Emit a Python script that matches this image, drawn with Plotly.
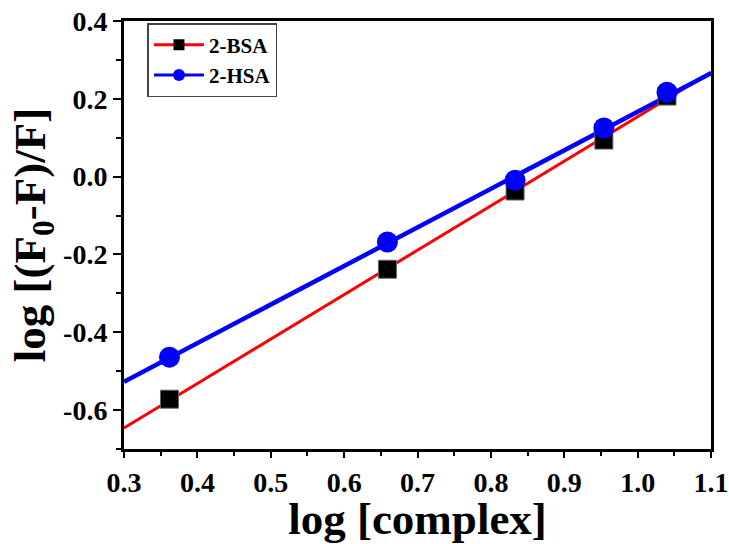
import plotly.graph_objects as go

# ---- data ----
log_complex = [0.362, 0.659, 0.833, 0.954, 1.040]
bsa_vals = [-0.572, -0.238, -0.037, 0.094, 0.207]
hsa_vals = [-0.464, -0.168, -0.009, 0.125, 0.217]

fit_x = [0.3, 1.1]
bsa_fit = [-0.646, 0.268]
hsa_fit = [-0.527, 0.266]

x_tickvals = [0.3, 0.4, 0.5, 0.6, 0.7, 0.8, 0.9, 1.0, 1.1]
x_ticktext = ["0.3", "0.4", "0.5", "0.6", "0.7", "0.8", "0.9", "1.0", "1.1"]
y_tickvals = [-0.6, -0.4, -0.2, 0.0, 0.2, 0.4]
y_ticktext = ["-0.6", "-0.4", "-0.2", "0.0", "0.2", "0.4"]

RED = "#FF0000"
BLUE = "#0000FF"
FONT = "Liberation Serif"

fig = go.Figure()

# fit lines
fig.add_trace(go.Scatter(x=fit_x, y=bsa_fit, mode="lines",
                         line=dict(color=RED, width=3), showlegend=False))
fig.add_trace(go.Scatter(x=fit_x, y=hsa_fit, mode="lines",
                         line=dict(color=BLUE, width=4.5), showlegend=False))
# data points
fig.add_trace(go.Scatter(x=log_complex, y=bsa_vals, mode="markers",
                         marker=dict(symbol="square", size=18, color="black",
                                     line=dict(color="#666666", width=1)),
                         showlegend=False))
fig.add_trace(go.Scatter(x=log_complex, y=hsa_vals, mode="markers",
                         marker=dict(symbol="circle", size=21, color=BLUE),
                         showlegend=False))
# legend entries
fig.add_trace(go.Scatter(x=[None], y=[None], mode="lines+markers", name="2-BSA",
                         line=dict(color=RED, width=3),
                         marker=dict(symbol="square", size=11, color="black")))
fig.add_trace(go.Scatter(x=[None], y=[None], mode="lines+markers", name="2-HSA",
                         line=dict(color=BLUE, width=3),
                         marker=dict(symbol="circle", size=12, color=BLUE)))

axis_common = dict(
    showline=True, linecolor="black", linewidth=3, mirror=True,
    ticks="outside", tickwidth=2, tickcolor="black",
    showgrid=False, zeroline=False, automargin=False,
    tickfont=dict(family=FONT, size=28, color="black", weight="bold"),
)

fig.update_xaxes(
    **axis_common,
    ticklen=6,
    range=[0.3, 1.1],
    tickvals=x_tickvals, ticktext=x_ticktext,
    minor=dict(ticks="outside", ticklen=4, tickwidth=2, tickcolor="black",
               dtick=0.05, tick0=0.3, showgrid=False),
    title=dict(text="log [complex]", standoff=0,
               font=dict(family=FONT, size=45, color="black", weight="bold")),
)
fig.update_yaxes(
    **axis_common,
    ticklen=8,
    range=[-0.7, 0.4],
    tickvals=y_tickvals, ticktext=y_ticktext,
    minor=dict(ticks="outside", ticklen=5, tickwidth=2, tickcolor="black",
               dtick=0.1, tick0=0.0, showgrid=False),
    title=dict(text="log [(F<sub>0</sub>-F)/F]", standoff=4,
               font=dict(family=FONT, size=45, color="black", weight="bold")),
)

fig.update_layout(
    width=729, height=544,
    margin=dict(l=124, r=18, t=21, b=95),
    paper_bgcolor="white", plot_bgcolor="white",
    legend=dict(x=0.04, y=0.995, xanchor="left", yanchor="top",
                bgcolor="white", bordercolor="#444444", borderwidth=1.5,
                itemwidth=50,
                font=dict(family=FONT, size=21, color="black", weight="bold"),
                tracegroupgap=0),
)

fig.write_html("out.html")
